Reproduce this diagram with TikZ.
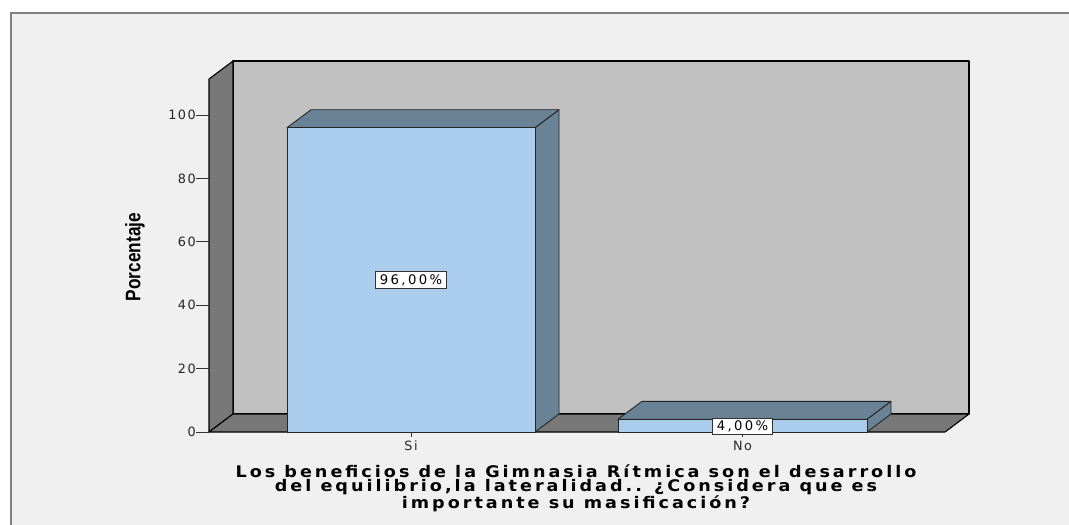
\documentclass[tikz,border=0pt]{standalone}
\usepackage{fontspec}
\usepackage{xcolor}
\usepackage{tikz}
\usetikzlibrary{positioning}
\setmainfont{DejaVu Sans}
\newfontfamily\axisfont{DejaVu Sans}[LetterSpace=12]
\newfontfamily\valfont{DejaVu Sans}[LetterSpace=18]
\newfontfamily\titlefont{DejaVu Sans}[LetterSpace=17]
\newfontfamily\ylabfont{Liberation Sans}

\definecolor{panelgray}{HTML}{F0F0F0}
\definecolor{framegray}{HTML}{808080}
\definecolor{backgray}{HTML}{C0C0C0}
\definecolor{sidegray}{HTML}{787878}
\definecolor{barblue}{HTML}{ABCDED}
\definecolor{barslate}{HTML}{6A8296}

\tikzset{
  backwall/.style={fill=backgray, draw=black, line width=1.1pt, line join=round},
  sidewall/.style={fill=sidegray, draw=black, line width=1.1pt, line join=round},
  barface/.style={fill=barblue, draw=black!85, line width=0.9pt, line join=round},
  barshade/.style={fill=barslate, draw=black!85, line width=0.9pt, line join=round},
  ticklab/.style={font=\axisfont\fontsize{12.8}{15}\selectfont, inner sep=0pt, text=black!85},
  axisline/.style={draw=black!80, line width=1pt},
  valbox/.style={draw=black!80, fill=white, line width=0.8pt, inner xsep=4.5pt, inner ysep=2.6pt, font=\valfont\fontsize{13.2}{15}\selectfont},
}

% one 3D bar: left x, right x, top y (floor at y=432)
\newcommand{\cubebar}[3]{%
  \filldraw[barshade] (#2,432) -- (#2+24,414) -- (#2+24,#3-18) -- (#2,#3) -- cycle;
  \filldraw[barshade] (#1,#3) -- (#1+24,#3-18) -- (#2+24,#3-18) -- (#2,#3) -- cycle;
  \filldraw[barface] (#1,432) rectangle (#2,#3);}
\newcommand{\wideline}[1]{\scalebox{1.1}[1]{#1}}

\begin{document}
\begin{tikzpicture}[x=1pt,y=-1pt]
  \useasboundingbox (0,0) rectangle (1069,525);
  \fill[white] (0,0) rectangle (1069,525);
  \fill[panelgray] (11,13) rectangle (1069,525);
  \draw[framegray, line width=1.8pt] (11,525) -- (11,13) -- (1069,13);

  % walls and floor
  \filldraw[backwall] (233,61) rectangle (969,414);
  \filldraw[sidewall] (209,432) -- (209,79) -- (233,61) -- (233,414) -- cycle;
  \filldraw[sidewall] (209,432) -- (233,414) -- (969,414) -- (945,432) -- cycle;

  % y axis
  \foreach \v in {0,20,...,100} {
    \node[ticklab, anchor=east] (y\v) at (196,{432-3.17*\v}) {\v};
    \draw[axisline] (y\v.east) -- (209,{432-3.17*\v});
  }
  \node[rotate=90, font=\ylabfont\bfseries\fontsize{21}{24}\selectfont] (ylab) at (135,257) {\scalebox{0.82}[1]{Porcentaje}};

  % bars
  \cubebar{287}{535}{127.7}
  \cubebar{618}{867}{419.3}

  \node[valbox] (val96) at (411,280) {96,00\%};
  \node[valbox] (val4) at (742.5,426.5) {4,00\%};

  % categories
  \node[ticklab, anchor=north] (catsi) at (411,441) {Si};
  \node[ticklab, anchor=north] (catno) at (742.5,441) {No};
  \draw[axisline] (411,432) -- (411,437);
  \draw[axisline] (val4.south) -- (742.5,437);

  \node[align=center, font=\titlefont\bfseries\fontsize{16}{14}\selectfont] (xlab) at (576,488)
    {\wideline{Los beneficios de la Gimnasia Rítmica son el desarrollo}\\
     \wideline{del equilibrio,la lateralidad.. ¿Considera que es}\\
     \wideline{importante su masificación?}};
\end{tikzpicture}
\end{document}
